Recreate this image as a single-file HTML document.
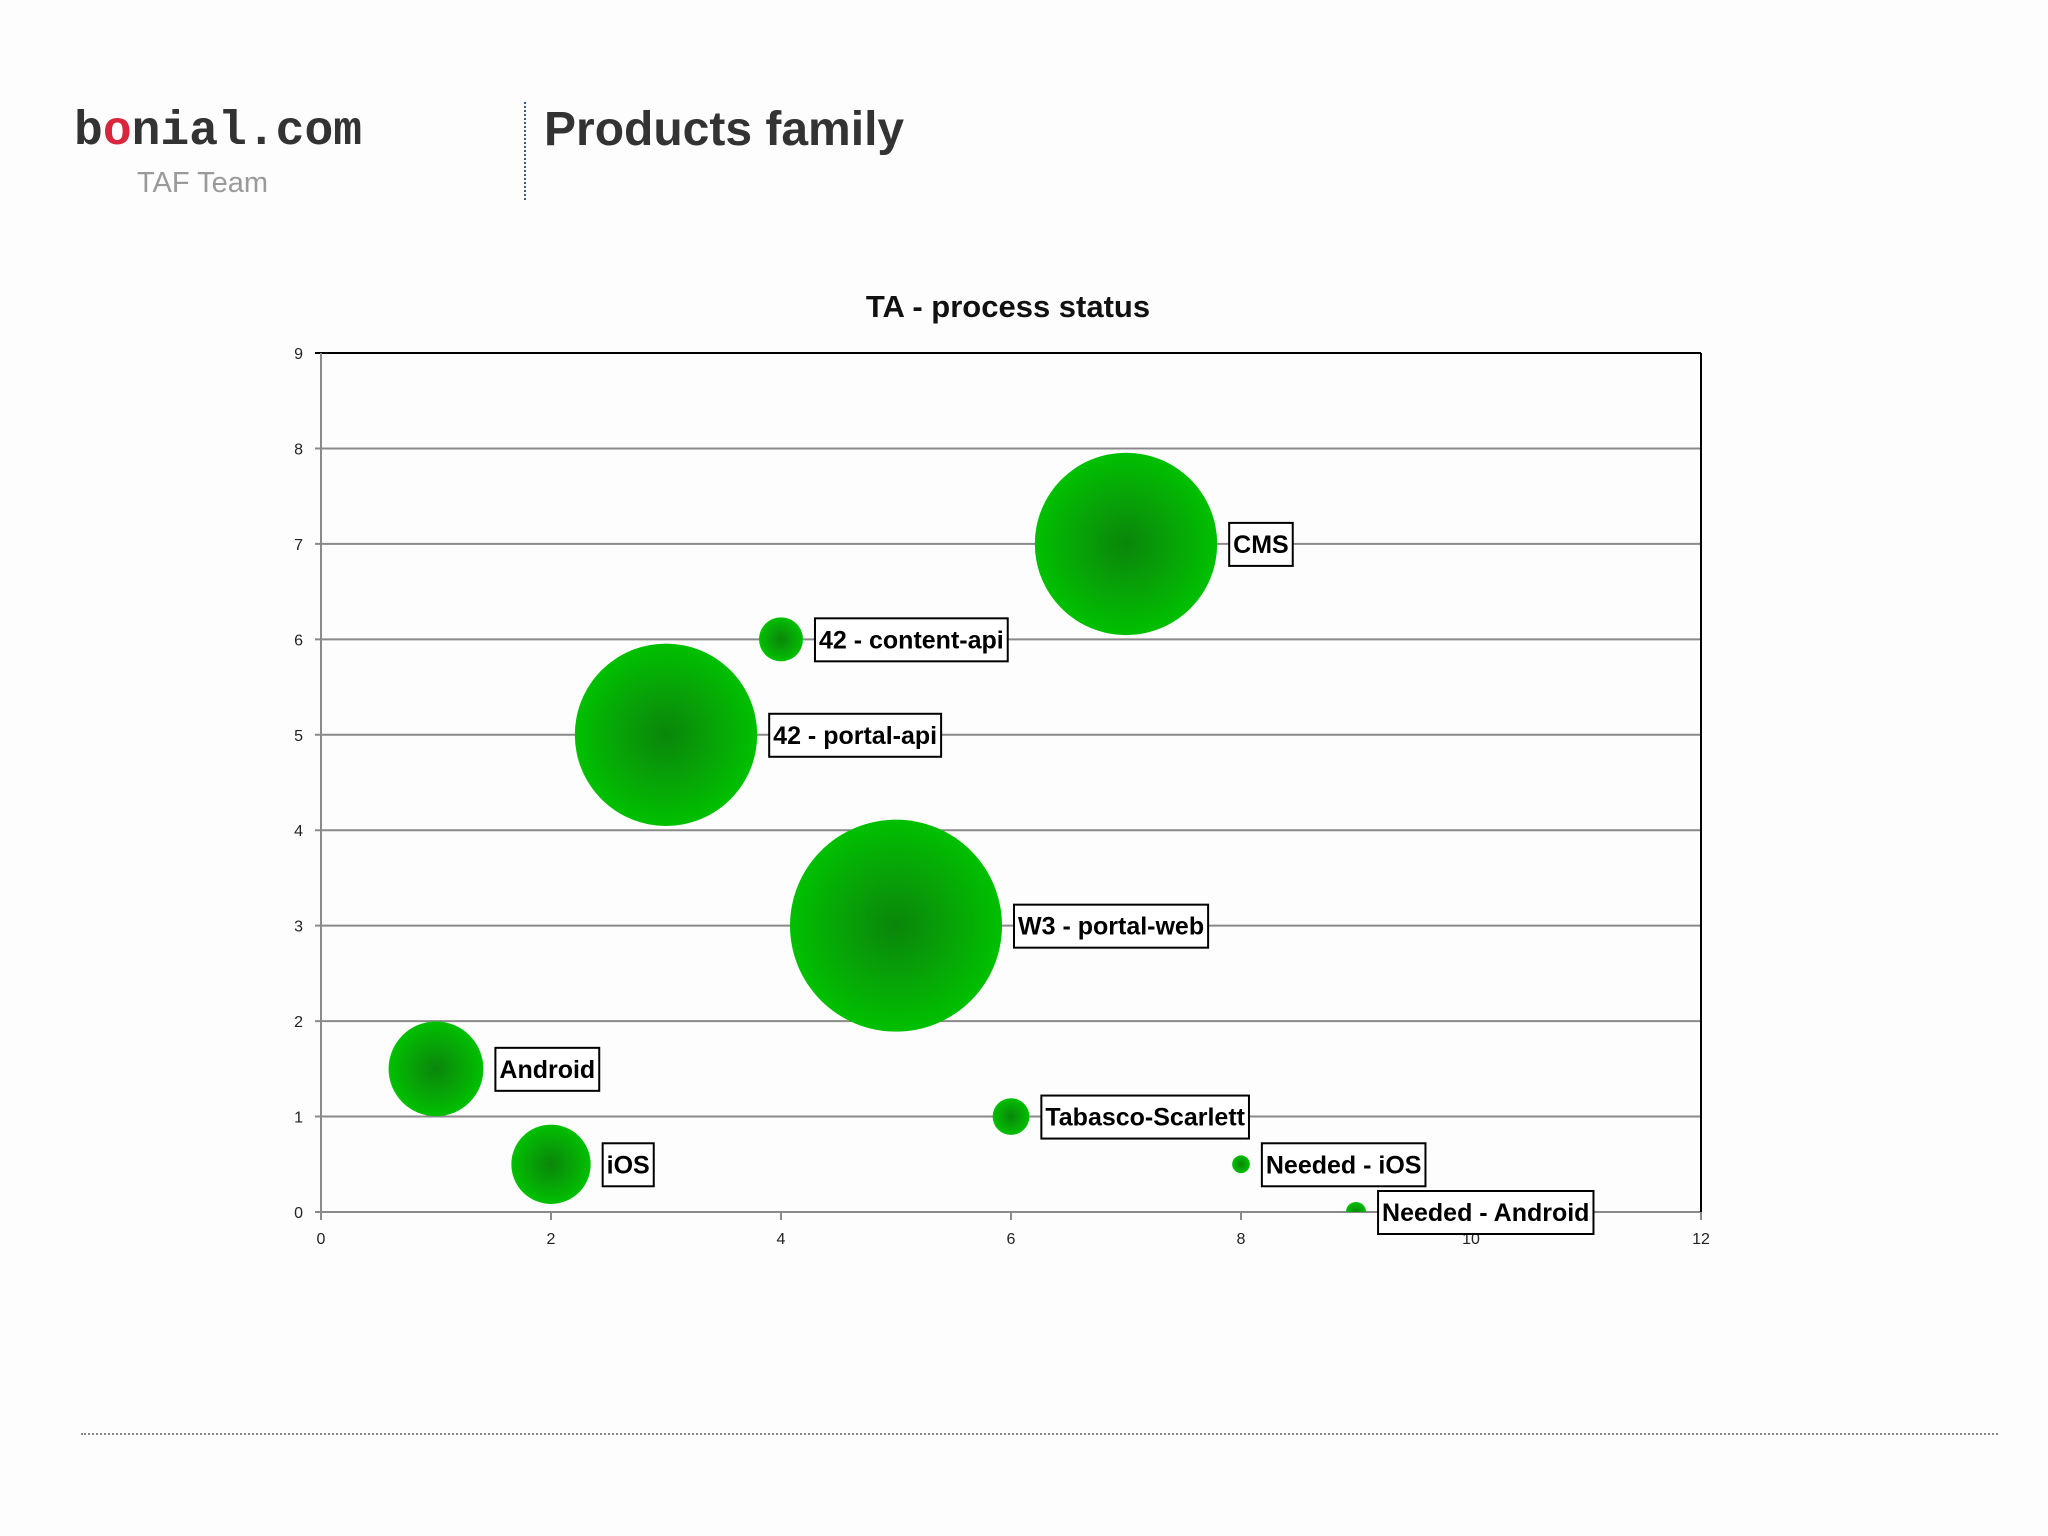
<!DOCTYPE html>
<html><head><meta charset="utf-8">
<style>
html,body{margin:0;padding:0;background:#fdfdfd;}
body{width:2048px;height:1536px;position:relative;overflow:hidden;font-family:"Liberation Sans",sans-serif;}
</style></head>
<body>
<div style="position:absolute;left:74px;top:105px;font:bold 48px 'Liberation Mono',monospace;color:#333;letter-spacing:0px">b<span style="color:#d8263d">o</span>nial.com</div>
<div style="position:absolute;left:137px;top:167px;font:29px 'Liberation Sans',sans-serif;color:#9a9a9a">TAF Team</div>
<div style="position:absolute;left:524px;top:102px;height:98px;border-left:2px dotted #3a5a8a"></div>
<div style="position:absolute;left:544px;top:102px;font:bold 48px 'Liberation Sans',sans-serif;color:#333">Products family</div>
<div style="position:absolute;left:81px;top:1433px;width:1917px;border-top:2px dotted #888"></div>
<svg id="chart" width="2048" height="1536" style="position:absolute;left:0;top:0">
<defs>
<radialGradient id="g"><stop offset="0" stop-color="#0a860a"/><stop offset="0.55" stop-color="#07a507"/><stop offset="1" stop-color="#00c000"/></radialGradient>
<clipPath id="clip"><rect x="321" y="353" width="1380" height="859"/></clipPath>
</defs>
</svg>
<script>
const names=["CMS","42 - content-api","42 -  portal-api","W3 - portal-web","Android","iOS","Tabasco-Scarlett","Needed - iOS","Needed - Android"];
const xs=[7,4,3,5,1,2,6,8,9];
const ys=[7,6,5,3,1.5,0.5,1,0.5,0];
const sizes=[74,4.3,74,100,20,14,3,0.7,0.9];
const xTicks=[0,2,4,6,8,10,12];
const yTicks=[0,1,2,3,4,5,6,7,8,9];
const L=321,R=1701,T=353,B=1212,maxR=106;
const X=v=>L+(R-L)*v/12, Y=v=>B-(B-T)*v/9;
const svg=document.getElementById('chart');const NS="http://www.w3.org/2000/svg";
function mk(t,a,p){const e=document.createElementNS(NS,t);for(const k in a)e.setAttribute(k,a[k]);(p||svg).appendChild(e);return e;}
yTicks.forEach(v=>{
 const l=mk('line',{x1:L-6,x2:R,y1:Y(v),y2:Y(v),stroke:v==9?'#000':'#8a8a8a','stroke-width':2});
 
 
 const t=mk('text',{x:L-18,y:Y(v)+6,'font-size':16,'font-family':'Liberation Sans Narrow, Liberation Sans, sans-serif','text-anchor':'end',fill:'#222'});t.textContent=v;
 
 
});
mk('line',{x1:R,x2:R,y1:T,y2:B,stroke:'#000','stroke-width':2});
mk('line',{x1:L,x2:L,y1:T,y2:B+8,stroke:'#8a8a8a','stroke-width':2});
xTicks.forEach(v=>{
 mk('line',{x1:X(v),x2:X(v),y1:B,y2:B+8,stroke:'#8a8a8a','stroke-width':2});
 const t=mk('text',{x:X(v),y:B+32,'font-size':16,'font-family':'Liberation Sans Narrow, Liberation Sans, sans-serif','text-anchor':'middle',fill:'#222'});t.textContent=v;
 
 
});
const title=mk('text',{x:1008,y:317,'font-size':31,'font-weight':'bold','font-family':'Liberation Sans Narrow, Liberation Sans, sans-serif','text-anchor':'middle',fill:'#111'});title.textContent='TA - process status';


const cg=mk('g',{'clip-path':'url(#clip)'});
const smax=Math.max(...sizes);
names.forEach((n,i)=>{
 const r=maxR*Math.sqrt(sizes[i]/smax);
 const c=mk('circle',{cx:X(xs[i]),cy:Y(ys[i]),r:r,fill:'url(#g)'},cg);
 
 
});
names.forEach((n,i)=>{
 const r=maxR*Math.sqrt(sizes[i]/smax);
 const x0=X(xs[i])+r+12,cy=Y(ys[i]);
 const t=mk('text',{x:x0+4,y:cy+9,'font-size':25,'font-weight':'bold','font-family':'Liberation Sans Narrow, Liberation Sans, sans-serif',fill:'#000'});
 t.textContent=n;
 
 
 const w=t.getComputedTextLength()+8;
 const b=mk('rect',{x:x0,y:cy-21,width:w,height:43,fill:'#fff',stroke:'#000','stroke-width':2});
 
 
 svg.appendChild(t);
});
</script>
</body></html>
